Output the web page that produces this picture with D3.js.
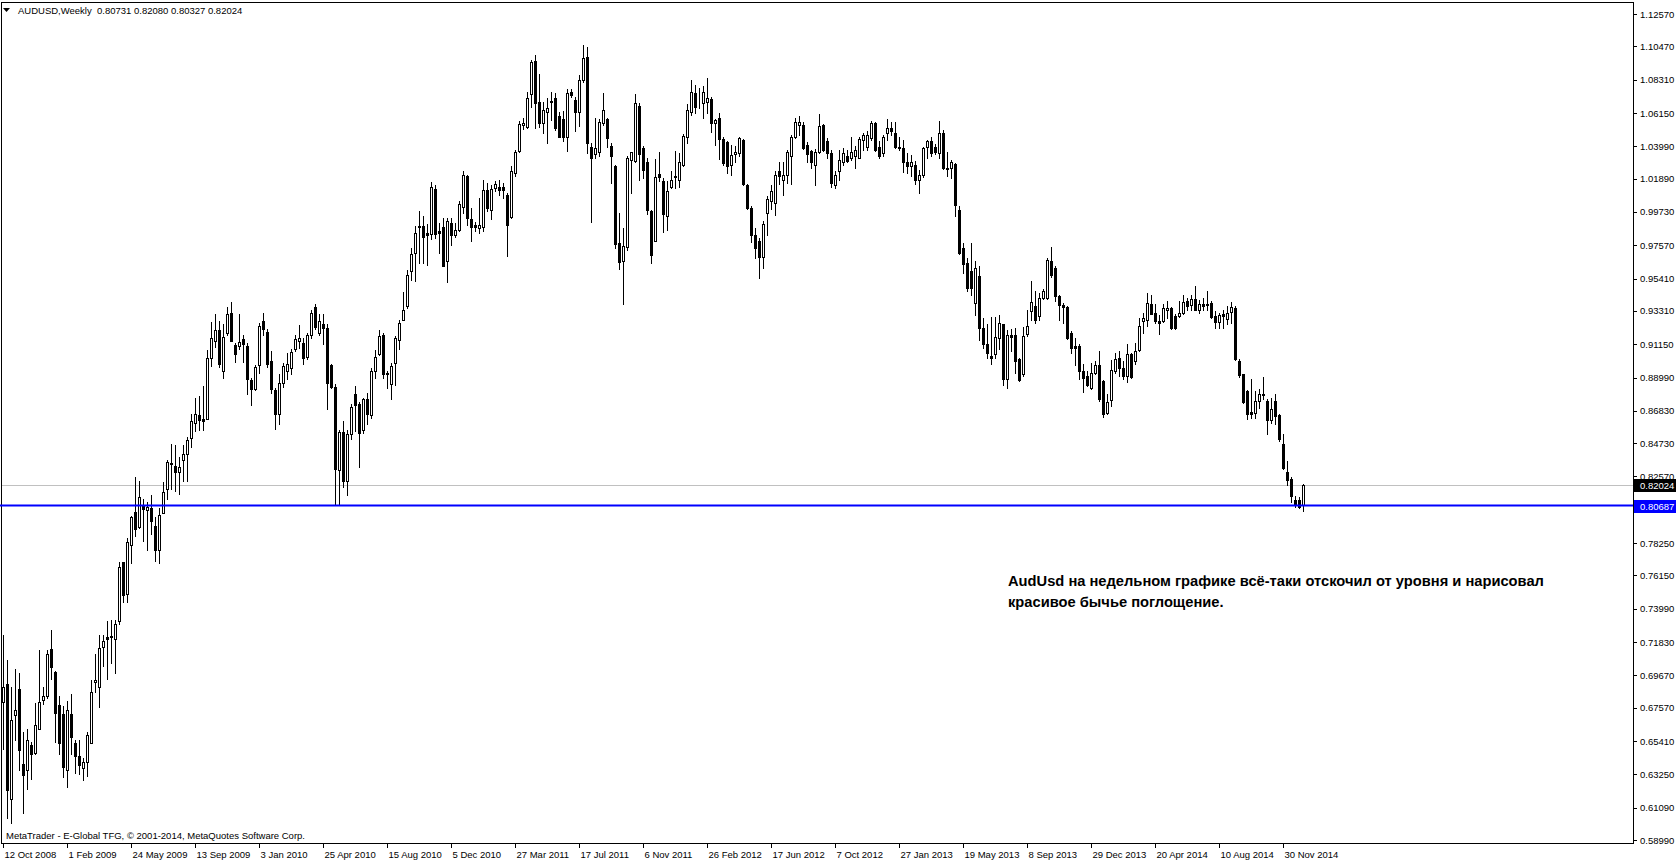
<!doctype html>
<html lang="ru">
<head>
<meta charset="utf-8">
<title>AUDUSD Weekly</title>
<script src="https://d3js.org/d3.v7.min.js"></script>
<style>
body { margin: 0; background: #fff; }
svg { display: block; }
text { font-family: Tahoma, "Liberation Sans", Arial, sans-serif; font-size: 9.5px; fill: #000; }
.note { font-size: 14.7px; font-weight: bold; }
.axis path.domain { display: none; }
.axis line { stroke: #000; shape-rendering: crispEdges; }
</style>
</head>
<body>
<div id="chart"></div>
<script>
// weekly candles, the first one is the week of 12 Oct 2008
var firstWeek = "12 Oct 2008";

var opens = [
 .6794,.6913,.6162,.6708,.6881,.6389,.6356,.6514,.6464,.6622,
 .6809,.6831,.7140,.6989,.6777,.6719,.6356,.6719,.6525,.6443,
 .6369,.6406,.6529,.6924,.6891,.7150,.7219,.7215,.7204,.7319,
 .7700,.7496,.7815,.8024,.7927,.8067,.8039,.8052,.7938,.7780,
 .8017,.8175,.8339,.8326,.8284,.8363,.8406,.8505,.8606,.8656,
 .8630,.8628,.9023,.9135,.9204,.8941,.9189,.9319,.9107,.9103,
 .9146,.9103,.8881,.8823,.8978,.9265,.9193,.9006,.8816,.8665,
 .8861,.8942,.8959,.9081,.9139,.9124,.9031,.9174,.9355,.9189,
 .9243,.9222,.8978,.8838,.8300,.8543,.8230,.8530,.8790,.8725,
 .8560,.8758,.8656,.8941,.9054,.9174,.8930,.8855,.8995,.9142,
 .9275,.9366,.9588,.9707,.9884,.9880,.9836,.9830,1.0123,.9851,
 .9873,.9653,.9901,.9821,.9858,1.0003,1.0203,.9929,.9886,.9869,
 .9873,1.0117,.9987,1.0128,1.0138,1.0138,1.0085,.9938,1.0225,1.0369,
 1.0538,1.0527,1.0736,1.0952,1.0684,1.0548,1.0620,1.0689,1.0715,1.0598,
 1.0577,1.0462,1.0753,1.0699,1.0620,1.0829,1.0980,1.0397,1.0348,1.0361,
 1.0549,1.0577,1.0404,1.0274,.9772,.9658,.9744,1.0311,1.0305,1.0663,
 1.0387,1.0294,.9981,.9787,1.0218,1.0175,.9949,1.0138,1.0208,1.0182,
 1.0278,1.0456,1.0620,1.0742,1.0683,1.0680,1.0689,1.0706,1.0548,1.0585,
 1.0447,1.0425,1.0279,1.0348,1.0354,1.0440,1.0145,.9998,.9826,.9786,
 .9679,.9965,1.0041,1.0030,1.0240,1.0182,1.0214,1.0333,1.0462,1.0538,
 1.0538,1.0408,1.0369,1.0279,1.0365,1.0538,1.0434,1.0354,1.0149,1.0236,
 1.0300,1.0339,1.0322,1.0339,1.0326,1.0440,1.0397,1.0451,1.0548,1.0397,
 1.0354,1.0484,1.0516,1.0484,1.0397,1.0391,1.0300,1.0268,1.0279,1.0182,
 1.0214,1.0397,1.0430,1.0397,1.0354,1.0484,1.0261,1.0261,1.0283,.9987,
 .9739,.9642,.9588,.9383,.9556,.9222,.9118,.9038,.9049,.9157,
 .9243,.8887,.9178,.9174,.9017,.8920,.9183,.9330,.9362,.9297,
 .9416,.9416,.9653,.9610,.9427,.9368,.9355,.9189,.9103,.9103,
 .8941,.8909,.8833,.8930,.8980,.8876,.8672,.8751,.8941,.9027,
 .8963,.8909,.9049,.9006,.9075,.9265,.9269,.9377,.9319,.9265,
 .9265,.9340,.9351,.9297,.9297,.9319,.9394,.9368,.9411,.9340,
 .9373,.9370,.9383,.9297,.9260,.9308,.9276,.9325,.9351,.9006,
 .8920,.8812,.8678,.8672,.8747,.8788,.8747,.8622,.8747,.8656,
 .8466,.8283,.8240,.8104,.8104,.80731];

var highs = [
 .7226,.7064,.6891,.7010,.6984,.6600,.6622,.6535,.6788,.7133,
 .6891,.7133,.7260,.6995,.6831,.6766,.6799,.6844,.6546,.6550,
 .6428,.6600,.6939,.7107,.7226,.7226,.7317,.7327,.7323,.7700,
 .7700,.7858,.8003,.8255,.8229,.8110,.8089,.8139,.7992,.8052,
 .8218,.8363,.8466,.8462,.8384,.8462,.8514,.8661,.8769,.8780,
 .8844,.9077,.9258,.9308,.9265,.9243,.9355,.9388,.9124,.9308,
 .9174,.9124,.8898,.8978,.9254,.9319,.9211,.9071,.8833,.8920,
 .8995,.9060,.9082,.9178,.9239,.9157,.9189,.9334,.9373,.9308,
 .9312,.9243,.8984,.8860,.8560,.8620,.8560,.8725,.8844,.8740,
 .8769,.8800,.8963,.9075,.9204,.9189,.8941,.8995,.9168,.9269,
 .9452,.9599,.9739,.9880,.9981,.9944,.9895,1.0166,1.0149,.9901,
 .9933,.9933,.9933,.9901,1.0046,1.0240,1.0210,.9998,.9908,1.0063,
 1.0182,1.0160,1.0145,1.0171,1.0182,1.0160,1.0095,1.0268,1.0376,1.0564,
 1.0580,1.0753,1.0958,1.0991,1.0866,1.0689,1.0710,1.0749,1.0743,1.0620,
 1.0628,1.0771,1.0771,1.0721,1.0861,1.1055,1.1045,1.0419,1.0585,1.0577,
 1.0747,1.0585,1.0419,1.0279,.9966,.9869,1.0333,1.0361,1.0736,1.0678,
 1.0404,1.0326,.9987,1.0318,1.0365,1.0192,1.0175,1.0236,1.0369,1.0354,
 1.0477,1.0671,1.0829,1.0796,1.0775,1.0792,1.0840,1.0721,1.0577,1.0613,
 1.0456,1.0434,1.0408,1.0398,1.0456,1.0447,1.0154,1.0010,.9869,.9804,
 .9916,1.0074,1.0145,1.0240,1.0300,1.0300,1.0376,1.0473,1.0581,1.0598,
 1.0555,1.0425,1.0376,1.0382,1.0607,1.0542,1.0451,1.0376,1.0236,1.0376,
 1.0391,1.0376,1.0462,1.0404,1.0456,1.0484,1.0495,1.0563,1.0555,1.0430,
 1.0473,1.0576,1.0559,1.0555,1.0456,1.0440,1.0354,1.0343,1.0305,1.0246,
 1.0397,1.0440,1.0456,1.0413,1.0564,1.0505,1.0365,1.0311,1.0289,1.0009,
 .9772,.9675,.9772,.9653,.9621,.9286,.9243,.9290,.9290,.9304,
 .9247,.9204,.9211,.9221,.9027,.9225,.9340,.9524,.9459,.9448,
 .9470,.9675,.9744,.9625,.9437,.9383,.9362,.9200,.9157,.9114,
 .8984,.8941,.8995,.9006,.9071,.8880,.8790,.9010,.9060,.9071,
 .9006,.9118,.9060,.9124,.9282,.9319,.9448,.9437,.9373,.9304,
 .9373,.9398,.9355,.9312,.9394,.9437,.9416,.9437,.9491,.9405,
 .9416,.9459,.9398,.9329,.9319,.9340,.9362,.9390,.9362,.9017,
 .8924,.8816,.8887,.8812,.8822,.8902,.8758,.8768,.8790,.8665,
 .8535,.8358,.8251,.8132,.8121,.82080];

var lows = [
 .6492,.6039,.6007,.6546,.6352,.6072,.6227,.6292,.6460,.6622,
 .6780,.6820,.6945,.6535,.6460,.6309,.6244,.6460,.6335,.6326,
 .6287,.6313,.6529,.6859,.6762,.7025,.6945,.7050,.6984,.7301,
 .7441,.7441,.7694,.7873,.7920,.7836,.7781,.7884,.7711,.7694,
 .8017,.8110,.8175,.8164,.8143,.8225,.8225,.8449,.8553,.8557,
 .8560,.8628,.8973,.9096,.8967,.8898,.9178,.9135,.9000,.9081,
 .9002,.8794,.8719,.8816,.8930,.9178,.8967,.8801,.8564,.8600,
 .8838,.8887,.8920,.9071,.9092,.8984,.9017,.9157,.9211,.9178,
 .9118,.8693,.8833,.8075,.8069,.8190,.8140,.8500,.8553,.8320,
 .8540,.8600,.8639,.8898,.9045,.8898,.8833,.8758,.8850,.9081,
 .9269,.9351,.9534,.9528,.9642,.9642,.9631,.9800,.9804,.9707,
 .9621,.9519,.9761,.9808,.9847,.9966,.9886,.9787,.9847,.9836,
 .9852,.9977,.9929,1.0106,1.0085,1.0063,.9685,.9933,1.0203,1.0361,
 1.0510,1.0516,1.0656,1.0516,1.0527,1.0484,1.0419,1.0570,1.0505,1.0456,
 1.0430,1.0369,1.0721,1.0499,1.0533,1.0818,1.0354,.9908,1.0326,1.0339,
 1.0538,1.0397,1.0160,.9739,.9606,.9373,.9729,1.0095,1.0296,1.0182,
 1.0192,.9959,.9642,.9787,1.0175,.9843,.9858,1.0128,1.0128,1.0132,
 1.0270,1.0419,1.0602,1.0613,1.0645,1.0581,1.0613,1.0490,1.0408,1.0318,
 1.0279,1.0225,1.0214,1.0300,1.0339,1.0145,.9994,.9778,.9675,.9545,
 .9610,.9826,.9994,.9955,1.0154,1.0085,1.0160,1.0153,1.0451,1.0473,
 1.0382,1.0300,1.0257,1.0149,1.0354,1.0369,1.0322,1.0138,1.0128,1.0182,
 1.0279,1.0300,1.0311,1.0261,1.0322,1.0376,1.0376,1.0440,1.0369,1.0322,
 1.0333,1.0440,1.0473,1.0387,1.0376,1.0235,1.0225,1.0203,1.0154,1.0095,
 1.0197,1.0326,1.0333,1.0348,1.0322,1.0252,1.0203,1.0196,.9944,.9701,
 .9577,.9460,.9437,.9307,.9140,.9092,.9027,.8984,.9027,.9081,
 .8851,.8833,.9071,.8930,.8877,.8909,.9168,.9269,.9254,.9269,
 .9411,.9411,.9550,.9394,.9275,.9254,.9146,.9060,.8980,.8887,
 .8808,.8844,.8822,.8920,.8747,.8643,.8665,.8714,.8930,.8909,
 .8887,.8872,.8898,.8984,.9071,.9189,.9232,.9308,.9254,.9182,
 .9260,.9286,.9211,.9211,.9290,.9308,.9340,.9340,.9334,.9319,
 .9340,.9340,.9286,.9221,.9221,.9221,.9243,.9254,.9010,.8902,
 .8736,.8628,.8639,.8639,.8704,.8758,.8531,.8606,.8596,.8490,
 .8304,.8203,.8089,.8057,.8052,.80327];

var closes = [
 .6891,.6223,.6676,.6740,.6481,.6320,.6550,.6460,.6643,.6794,
 .6831,.7107,.7021,.6723,.6529,.6374,.6745,.6568,.6443,.6384,
 .6406,.6579,.6859,.6939,.7144,.7189,.7204,.7222,.7297,.7672,
 .7491,.7830,.7992,.7916,.8126,.8045,.8056,.7966,.7780,.8007,
 .8158,.8352,.8343,.8289,.8321,.8402,.8492,.8617,.8661,.8622,
 .8615,.9023,.9157,.9204,.8984,.9161,.9312,.9135,.9049,.9131,
 .9114,.8887,.8823,.8967,.9232,.9211,.8984,.8823,.8665,.8866,
 .8973,.8989,.9067,.9146,.9157,.9027,.9178,.9319,.9226,.9265,
 .9222,.8866,.8838,.8305,.8543,.8230,.8530,.8708,.8719,.8540,
 .8762,.8660,.8941,.9032,.9168,.8920,.8919,.8973,.9157,.9254,
 .9334,.9562,.9703,.9836,.9875,.9808,.9821,1.0132,.9830,.9838,
 .9625,.9912,.9826,.9858,1.0024,1.0214,.9933,.9873,.9875,.9890,
 1.0117,.9998,1.0123,1.0153,1.0117,1.0117,.9890,1.0240,1.0361,1.0542,
 1.0549,1.0715,1.0948,1.0678,1.0548,1.0635,1.0650,1.0695,1.0516,1.0462,
 1.0462,1.0747,1.0732,1.0620,1.0829,1.0973,1.0419,1.0326,1.0387,1.0559,
 1.0635,1.0452,1.0339,.9765,.9649,.9754,1.0322,1.0359,1.0682,1.0348,
 1.0246,.9987,.9692,1.0197,1.0197,.9959,1.0110,1.0179,1.0200,1.0300,
 1.0466,1.0635,1.0753,1.0656,1.0689,1.0753,1.0715,1.0548,1.0570,1.0447,
 1.0289,1.0274,1.0343,1.0365,1.0451,1.0154,.9998,.9826,.9739,.9679,
 .9895,1.0059,1.0110,1.0214,1.0203,1.0214,1.0361,1.0462,1.0555,1.0555,
 1.0391,1.0348,1.0300,1.0365,1.0533,1.0376,1.0354,1.0160,1.0214,1.0311,
 1.0354,1.0305,1.0365,1.0376,1.0447,1.0473,1.0473,1.0548,1.0376,1.0333,
 1.0462,1.0516,1.0495,1.0397,1.0387,1.0300,1.0268,1.0300,1.0182,1.0214,
 1.0391,1.0430,1.0354,1.0361,1.0484,1.0257,1.0252,1.0300,1.0020,.9707,
 .9636,.9481,.9481,.9610,.9222,.9118,.9060,.9027,.9161,.9254,
 .8887,.9178,.9161,.9006,.8881,.9168,.9232,.9390,.9275,.9416,
 .9459,.9664,.9567,.9427,.9368,.9355,.9153,.9092,.9088,.8941,
 .8898,.8850,.8930,.8980,.8758,.8665,.8743,.8945,.9017,.8963,
 .8909,.9053,.8902,.9071,.9232,.9286,.9383,.9312,.9265,.9254,
 .9347,.9351,.9217,.9221,.9319,.9390,.9362,.9411,.9340,.9377,
 .9362,.9375,.9290,.9260,.9304,.9297,.9319,.9355,.9017,.8915,
 .8743,.8660,.8665,.8747,.8790,.8795,.8622,.8693,.8650,.8499,
 .8311,.8233,.8132,.8074,.8061,.82024];

// right scale labels, top to bottom
var priceTicks = [1.12570,1.10470,1.08310,1.06150,1.03990,1.01890,0.99730,0.97570,0.95410,
  0.93310,0.91150,0.88990,0.86830,0.84730,0.82570,0.80410,0.78250,0.76150,0.73990,
  0.71830,0.69670,0.67570,0.65410,0.63250,0.61090,0.58990];

// time scale labels
var dateTicks = ["12 Oct 2008","1 Feb 2009","24 May 2009","13 Sep 2009","3 Jan 2010",
  "25 Apr 2010","15 Aug 2010","5 Dec 2010","27 Mar 2011","17 Jul 2011","6 Nov 2011",
  "26 Feb 2012","17 Jun 2012","7 Oct 2012","27 Jan 2013","19 May 2013","8 Sep 2013",
  "29 Dec 2013","20 Apr 2014","10 Aug 2014","30 Nov 2014"];

var supportLevel = 0.80687;
var symbolName = "AUDUSD,Weekly";
var noteLines = ["AudUsd на недельном графике всё-таки отскочил от уровня и нарисовал",
                 "красивое бычье поглощение."];
var copyright = "MetaTrader - E-Global TFG, © 2001-2014, MetaQuotes Software Corp.";

var W = 1676, H = 861;
var plot = { left: 1.5, top: 2.5, right: 1633, bottom: 843 };

var parseDay = d3.utcParse("%d %b %Y");
var startDate = parseDay(firstWeek);

var candles = opens.map(function(o, i) {
  return { date: d3.utcWeek.offset(startDate, i), o: o, h: highs[i], l: lows[i], c: closes[i] };
});

var x = d3.scaleUtc()
    .domain([parseDay(dateTicks[0]), parseDay(dateTicks[dateTicks.length - 1])])
    .range([3, 1283]);

var y = d3.scaleLinear()
    .domain([priceTicks[priceTicks.length - 1], priceTicks[0]])
    .range([840, 14]);

var svg = d3.select("#chart").append("svg")
    .attr("width", W)
    .attr("height", H);

svg.append("rect").attr("width", W).attr("height", H).attr("fill", "#fff");

// frame of the chart window
svg.append("rect")
    .attr("x", plot.left).attr("y", plot.top)
    .attr("width", plot.right + 0.5 - plot.left)
    .attr("height", plot.bottom + 0.5 - plot.top)
    .attr("fill", "none").attr("stroke", "#000");

// grey line at the last close
var last = candles[candles.length - 1];
var yLast = Math.round(y(last.c));
svg.append("line")
    .attr("x1", 2).attr("x2", plot.right)
    .attr("y1", yLast + 0.5).attr("y2", yLast + 0.5)
    .attr("stroke", "#c0c0c0");

// candles
var g = svg.append("g");
candles.forEach(function(d) {
  var px = Math.round(x(d.date));
  var top = Math.round(y(Math.max(d.o, d.c)));
  var bot = Math.round(y(Math.min(d.o, d.c)));
  g.append("line")
      .attr("x1", px + 0.5).attr("x2", px + 0.5)
      .attr("y1", Math.round(y(d.h))).attr("y2", Math.round(y(d.l)) + 1)
      .attr("stroke", "#000");
  g.append("rect")
      .attr("x", px - 0.5).attr("width", 2)
      .attr("y", top + 0.5).attr("height", Math.max(0, bot - top))
      .attr("fill", d.c >= d.o ? "#fff" : "#000")
      .attr("stroke", "#000");
});

// support level line
var ySup = y(supportLevel);
svg.append("line")
    .attr("x1", 0).attr("x2", plot.right)
    .attr("y1", ySup).attr("y2", ySup)
    .attr("stroke", "#0000ff").attr("stroke-width", 2);

// price axis on the right
var yAxis = d3.axisRight(y)
    .tickValues(priceTicks)
    .tickSize(4)
    .tickPadding(3)
    .tickFormat(d3.format(".5f"));

svg.append("g")
    .attr("class", "axis")
    .attr("transform", "translate(" + plot.right + ",0)")
    .call(yAxis)
    .selectAll("text").style("font-size", "9.5px");

// time axis at the bottom
var xAxis = d3.axisBottom(x)
    .tickValues(dateTicks.map(parseDay))
    .tickSize(5)
    .tickFormat(d3.utcFormat("%-d %b %Y"));

svg.append("g")
    .attr("class", "axis")
    .attr("transform", "translate(0," + plot.bottom + ")")
    .call(xAxis)
    .selectAll("text")
      .attr("text-anchor", "start")
      .attr("x", 1)
      .style("font-size", "9.5px");

// value boxes on the price axis
function priceBox(val, colour) {
  var yy = Math.round(y(val));
  svg.append("rect")
      .attr("x", plot.right + 1).attr("y", yy - 6)
      .attr("width", W - plot.right - 1).attr("height", 13)
      .attr("fill", colour);
  svg.append("text")
      .attr("x", plot.right + 7).attr("y", yy + 0.5)
      .attr("dy", "0.35em")
      .style("fill", "#fff")
      .text(d3.format(".5f")(val));
}
priceBox(last.c, "#000");
priceBox(supportLevel, "#0000ff");

// header with symbol and the last bar
svg.append("path")
    .attr("d", "M3,8 L10,8 L6.5,12 Z")
    .attr("fill", "#000");
svg.append("text")
    .attr("x", 18).attr("y", 14)
    .style("white-space", "pre")
    .text(symbolName + "  " + [last.o, last.h, last.l, last.c].map(d3.format(".5f")).join(" "));

// comment
svg.selectAll(".note")
    .data(noteLines)
  .enter().append("text")
    .attr("class", "note")
    .attr("x", 1008)
    .attr("y", function(d, i) { return 586 + i * 21; })
    .text(function(d) { return d; });

svg.append("text")
    .attr("x", 6).attr("y", 839)
    .text(copyright);
</script>
</body>
</html>
